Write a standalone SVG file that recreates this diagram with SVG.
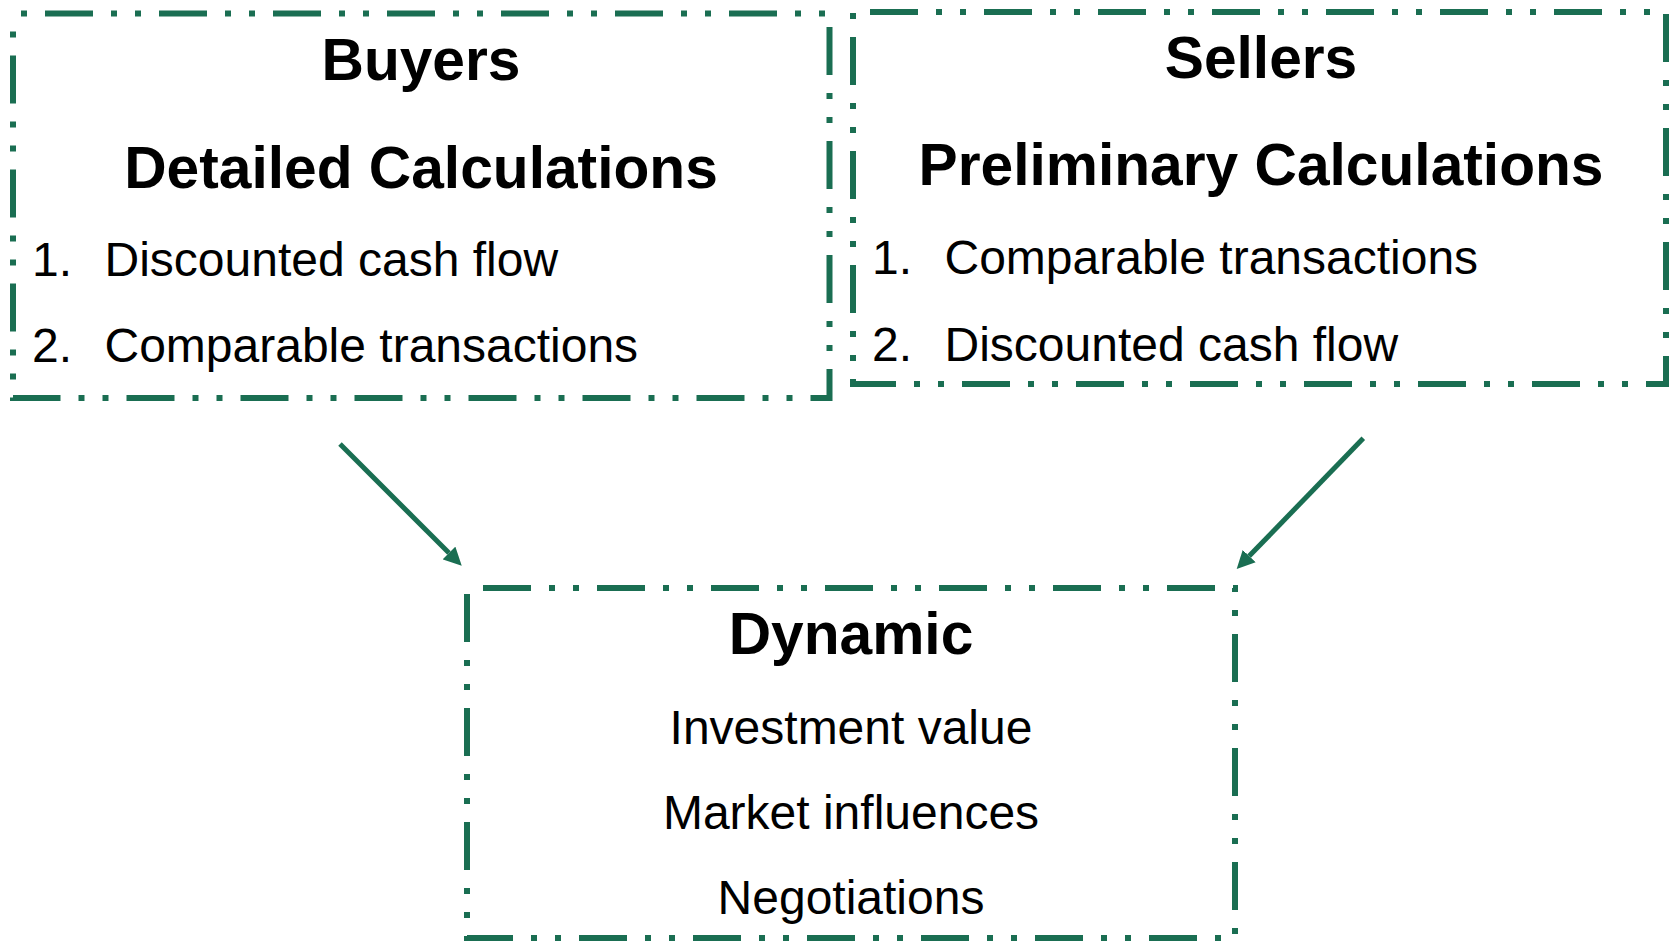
<svg xmlns="http://www.w3.org/2000/svg" width="1669" height="941" viewBox="0 0 1669 941">
  <style>
    .frame { fill: none; stroke: #1a6e52; stroke-width: 6; stroke-dasharray: 48 18 6 18 6 18; stroke-linecap: butt; }
    .title { font-family: "Liberation Sans", Arial, sans-serif; font-weight: bold; font-size: 58.7px; fill: #000; text-anchor: middle; }
    .item { font-family: "Liberation Sans", Arial, sans-serif; font-size: 48px; fill: #000; }
    .center { text-anchor: middle; }
    .link { stroke: #1a6e52; stroke-width: 5; fill: none; }
  </style>
  <defs>
    <marker id="head" viewBox="0 0 18 18" refX="0" refY="9" markerWidth="18" markerHeight="18" markerUnits="userSpaceOnUse" orient="auto">
      <path d="M0,0 L18,9 L0,18 Z" fill="#1a6e52"/>
    </marker>
  </defs>
  <rect width="1669" height="941" fill="#fff"/>

  <g id="buyers">
    <path class="frame" d="M13,13.5 H829.5 V398 H13 Z" stroke-dashoffset="82"/>
    <text class="title" x="421" y="80">Buyers</text>
    <text class="title" x="421" y="188">Detailed Calculations</text>
    <text class="item" x="32" y="276">1.</text>
    <text class="item" x="104.5" y="276">Discounted cash flow</text>
    <text class="item" x="32" y="362">2.</text>
    <text class="item" x="104.5" y="362">Comparable transactions</text>
  </g>

  <g id="sellers">
    <path class="frame" d="M853,12 H1666 V384 H853 Z" stroke-dashoffset="97"/>
    <text class="title" x="1261" y="78">Sellers</text>
    <text class="title" x="1261" y="185">Preliminary Calculations</text>
    <text class="item" x="872" y="274">1.</text>
    <text class="item" x="944.5" y="274">Comparable transactions</text>
    <text class="item" x="872" y="361">2.</text>
    <text class="item" x="944.5" y="361">Discounted cash flow</text>
  </g>

  <g id="dynamic">
    <path class="frame" d="M467,588 H1235 V938 H467 Z" stroke-dashoffset="98"/>
    <text class="title" x="851" y="654">Dynamic</text>
    <text class="item center" x="851" y="744">Investment value</text>
    <text class="item center" x="851" y="829">Market influences</text>
    <text class="item center" x="851" y="914">Negotiations</text>
  </g>

  <g id="connectors">
    <line class="link" x1="340" y1="444" x2="449" y2="553" marker-end="url(#head)"/>
    <line class="link" x1="1363.3" y1="438.3" x2="1249.2" y2="556.1" marker-end="url(#head)"/>
  </g>
</svg>
